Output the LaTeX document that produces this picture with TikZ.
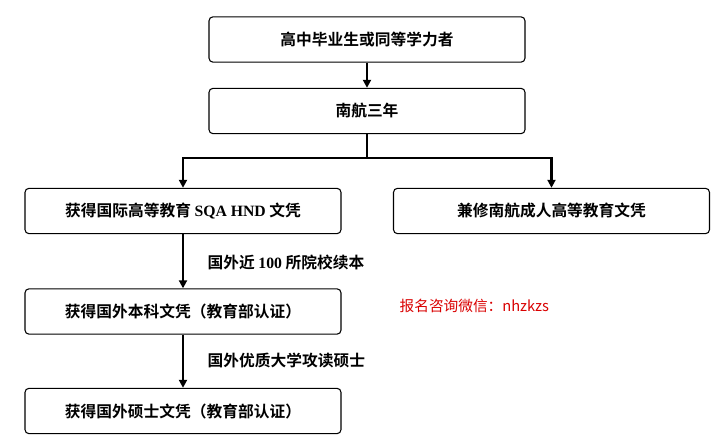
\documentclass[tikz,border=0pt]{standalone}
\usepackage{fontspec}
\newfontfamily\cjk{Noto Sans CJK SC}
\newfontfamily\cjkb{Noto Sans CJK SC Bold}
\newfontfamily\lat{Liberation Serif}
\usetikzlibrary{arrows.meta}
\begin{document}
\begin{tikzpicture}[x=0.75pt,y=-0.75pt,
  box/.style={draw,rounded corners=3pt,line width=0.8pt,minimum width=237pt,minimum height=34pt,inner sep=0pt,font=\cjkb\fontsize{11.8}{13}\selectfont},
  arr/.style={line width=2.2pt,-{Triangle[length=6pt,width=6pt]}},
  lbl/.style={anchor=west,font=\cjkb\fontsize{11.8}{13}\selectfont}]
\useasboundingbox (0,0) rectangle (722,445);
\node[box] (a) at (367,39.5) {高中毕业生或同等学力者};
\node[box] (b) at (367,111) {南航三年};
\node[box] (c) at (183,211) {获得国际高等教育 {\lat\bfseries SQA HND} 文凭};
\node[box] (d) at (551.5,211) {兼修南航成人高等教育文凭};
\node[box] (e) at (183,311.5) {获得国外本科文凭（教育部认证）};
\node[box] (f) at (183,411) {获得国外硕士文凭（教育部认证）};
\coordinate (m) at (367,158);
\draw[arr] (a) -- (b);
\draw[line width=2.2pt] (b.south) -- (m);
\draw[arr] (m) -| (c.north);
\draw[arr] (m) -| (d.north);
\draw[arr] (c) -- (e);
\draw[arr] (e) -- (f);
\node[lbl] (l1) at (203,262) {国外近 {\lat\bfseries 100} 所院校续本};
\node[lbl] (l2) at (203,360) {国外优质大学攻读硕士};
\node[anchor=west,text=red!85!black,font=\cjk\fontsize{11}{12}\selectfont] (w) at (395,306) {报名咨询微信：nhzkzs};
\end{tikzpicture}
\end{document}
